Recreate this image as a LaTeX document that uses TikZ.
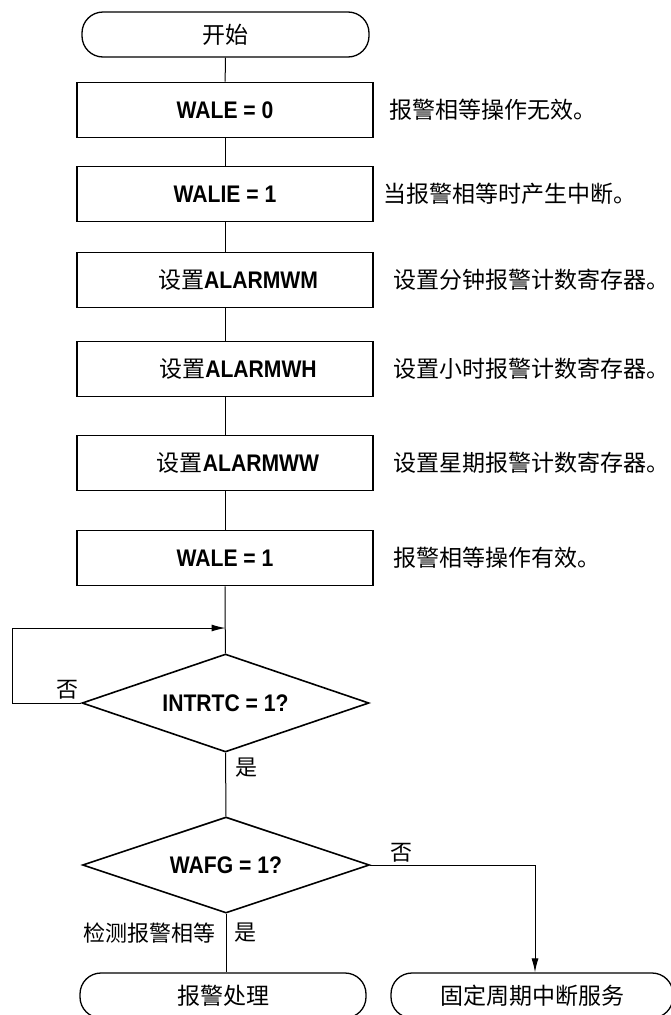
\documentclass[tikz,border=0pt]{standalone}
\usepackage{fontspec}
\setmainfont{Liberation Sans}
\newfontfamily\cond[FakeStretch=0.88]{Liberation Sans}
\newfontfamily\cjk{Noto Sans CJK SC}
\usetikzlibrary{shapes.geometric,arrows.meta}
\newcommand{\zhset}{{\mdseries\cjk\fontsize{23}{25}\selectfont 设置}}
\begin{document}
\begin{tikzpicture}[x=1pt,y=-1pt,
  box/.style={draw,line width=1.6pt,minimum width=296pt,minimum height=55pt,inner sep=0pt,
    font=\cond\fontsize{24}{26}\selectfont\bfseries},
  term/.style={draw,line width=1.3pt,rounded corners=21pt,minimum height=45pt,inner sep=0pt,
    font=\cjk\fontsize{23}{25}\selectfont},
  dec/.style={draw,diamond,aspect=2.95,line width=1.6pt,inner sep=0pt,minimum width=287pt,
    font=\cond\fontsize{24}{26}\selectfont\bfseries},
  note/.style={anchor=west,inner sep=0pt,font=\cjk\fontsize{23}{25}\selectfont},
  lbl/.style={inner sep=0pt,font=\cjk\fontsize{22}{24}\selectfont},
  conn/.style={line width=1pt},
  arr/.style={line width=1pt,-{Latex[length=14pt,width=7pt]}},
]
\useasboundingbox (0,0) rectangle (671,1015);
\clip (0,0) rectangle (671,1015);

\node[term,minimum width=287pt] (start) at (225.5,34.5) {开始};
\node[box] (b1) at (225,110) {WALE = 0};
\node[box] (b2) at (225,194) {WALIE = 1};
\node[box] (b3) at (225,280) {\hspace*{26pt}\zhset ALARMWM};
\node[box] (b4) at (225,369) {\hspace*{26pt}\zhset ALARMWH};
\node[box] (b5) at (225,463) {\hspace*{26pt}\zhset ALARMWW};
\node[box] (b6) at (225,558) {WALE = 1};
\node[dec,minimum height=98pt] (d1) at (225.5,703) {INTRTC = 1?};
\node[dec,minimum height=96pt] (d2) at (226,865) {WAFG = 1?};
\node[term,minimum width=286pt] (endL) at (223,995.5) {报警处理};
\node[term,minimum width=282pt] (endR) at (532,995.5) {固定周期中断服务};

\node[note] (n1) at (389,110) {报警相等操作无效。};
\node[note] (n2) at (383,194) {当报警相等时产生中断。};
\node[note] (n3) at (393,280) {设置分钟报警计数寄存器。};
\node[note] (n4) at (393,369) {设置小时报警计数寄存器。};
\node[note] (n5) at (393,463) {设置星期报警计数寄存器。};
\node[note] (n6) at (393,558) {报警相等操作有效。};

\draw[conn] (start) -- (b1);
\draw[conn] (b1) -- (b2);
\draw[conn] (b2) -- (b3);
\draw[conn] (b3) -- (b4);
\draw[conn] (b4) -- (b5);
\draw[conn] (b5) -- (b6);
\draw[conn] (b6) -- (d1);
\draw[conn] (d1) -- (d2);
\draw[conn] (d2) -- (endL.north -| d2.south);

\coordinate (lp) at (12,628);
\coordinate (m) at (225.5,628);
\draw[arr] (d1.west) -- (d1.west -| lp) -- (lp) -- (m);

\coordinate (rc) at (535,865);
\draw[arr] (d2.east) -- (rc) -- (rc |- endR.north);

\node[lbl] (no1) at (67,690) {否};
\node[lbl] (yes1) at (246,768) {是};
\node[lbl] (no2) at (401,853) {否};
\node[lbl,anchor=east] (det) at (216,933) {检测报警相等};
\node[lbl] (yes2) at (245,933) {是};
\end{tikzpicture}
\end{document}
